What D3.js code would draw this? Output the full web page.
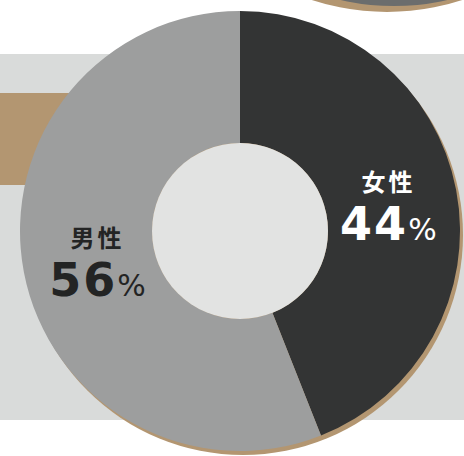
<!DOCTYPE html>
<html>
<head>
<meta charset="utf-8">
<script src="https://cdn.jsdelivr.net/npm/d3@7"></script>
<style>
  html, body { margin: 0; padding: 0; background: #fff; }
  svg { display: block; }
</style>
</head>
<body>
<div class="container"></div>
<script>
const width = 464;
const height = 456;

// data
const categories = ["女性", "男性"];
const values = [44, 56];
const colors = ["#333434", "#9d9e9e"];
const textColors = ["#ffffff", "#232424"];

const cx = 240, cy = 231;
const outerR = 220, innerR = 88;

const svg = d3.select(".container")
    .append("svg")
    .attr("width", width)
    .attr("height", height)
    .attr("viewBox", [0, 0, width, height]);

// background band and tan block
svg.append("rect")
    .attr("x", 0).attr("y", 54)
    .attr("width", width).attr("height", 366)
    .attr("fill", "#d9dbda");

svg.append("rect")
    .attr("x", 0).attr("y", 93)
    .attr("width", 120).attr("height", 92)
    .attr("fill", "#b39671");

// partial circle at the top right
svg.append("circle")
    .attr("cx", 387).attr("cy", -230).attr("r", 242)
    .attr("fill", "#b39671");
svg.append("circle")
    .attr("cx", 394).attr("cy", -234).attr("r", 240)
    .attr("fill", "#6b6d6d");

// donut shadow
svg.append("circle")
    .attr("cx", cx + 3).attr("cy", cy + 4).attr("r", outerR)
    .attr("fill", "#b39671");

const pie = d3.pie().sort(null).value(d => d)
const arcs = pie(values)

const arc = d3.arc().innerRadius(innerR).outerRadius(outerR)
const labelArc = d3.arc().innerRadius(148).outerRadius(148)

const g = svg.append("g").attr("transform", `translate(${cx},${cy})`)

g.selectAll("path")
    .data(arcs)
    .join("path")
    .attr("d", arc)
    .attr("fill", (d, i) => colors[i])

g.append("circle")
    .attr("r", innerR)
    .attr("fill", "#e2e3e2")

const labels = g.selectAll("g.label")
    .data(arcs)
    .join("g")
    .attr("class", "label")
    .attr("transform", d => {
        const [x, y] = labelArc.centroid(d)
        return `translate(${x + 3},${y})`
    })

labels.append("text")
    .attr("text-anchor", "middle")
    .attr("y", -12)
    .attr("fill", (d, i) => textColors[i])
    .style("font-family", "'Noto Sans CJK JP', sans-serif")
    .style("font-weight", 700)
    .style("font-size", "24px")
    .style("letter-spacing", "3px")
    .text((d, i) => categories[i])

const val = labels.append("text")
    .attr("text-anchor", "middle")
    .attr("y", 37)
    .attr("fill", (d, i) => textColors[i])
    .style("font-family", "'DejaVu Sans', sans-serif")
    .style("font-weight", 700)

val.append("tspan")
    .style("font-size", "46px")
    .style("letter-spacing", "2px")
    .text(d => d.data)

val.append("tspan")
    .style("font-size", "30px")
    .style("font-weight", 400)
    .text("%")
</script>
</body>
</html>
